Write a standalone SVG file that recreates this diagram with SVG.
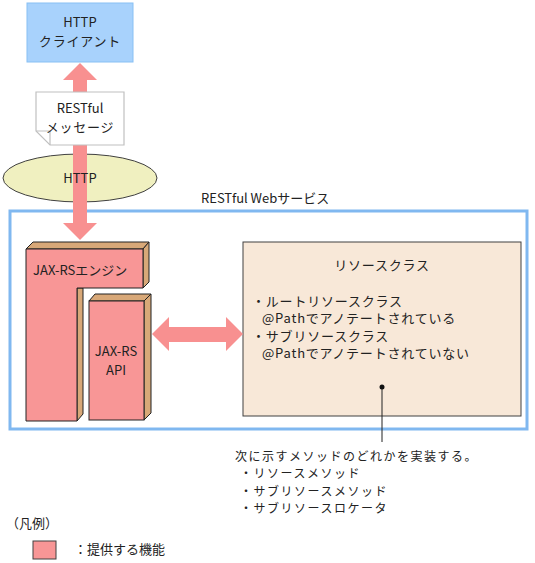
<svg xmlns="http://www.w3.org/2000/svg" width="535" height="563" viewBox="0 0 535 563">
<style>
text{font-family:"Noto Sans CJK JP","Liberation Sans",sans-serif;font-size:13px;fill:#222}
.c{text-anchor:middle}
.j{letter-spacing:0.8px}
.n{font-size:12px;letter-spacing:1.5px}
.front{fill:#f89696;stroke:#222;stroke-width:1}
.side{fill:#d8a878;stroke:#222;stroke-width:1}
.arrow{fill:#f89090;stroke:none}
</style>
<rect width="535" height="563" fill="#fff"/>
<g id="client">
<rect x="27" y="3" width="106" height="59" fill="#a8d2fc" stroke="#88c0f4" stroke-width="1"/>
<text class="c" x="80" y="27">HTTP</text>
<text class="c j" x="80" y="46">クライアント</text>
</g>
<g id="http">
<ellipse cx="80" cy="178" rx="77" ry="24" fill="#f0f0c0" stroke="#404040" stroke-width="1"/>
</g>
<g id="webservice">
<rect x="10" y="211" width="517" height="218" fill="none" stroke="#80b8f0" stroke-width="3"/>
<text x="201" y="203">RESTful Webサービス</text>
</g>
<g id="engine">
<polygon class="side" points="26,249 33,242 149,242 143,249"/>
<polygon class="side" points="143,249 149,242 149,282 143,288"/>
<polygon class="side" points="77,288 83,288 83,414 77,421"/>
<polygon class="front" points="26,249 143,249 143,288 77,288 77,421 26,421"/>
<text x="33" y="275">JAX-RSエンジン</text>
</g>
<g id="api">
<polygon class="side" points="89,301 95,294 151,294 144,301"/>
<polygon class="side" points="144,301 151,294 151,413 144,420"/>
<rect class="front" x="89" y="301" width="55" height="119"/>
<text class="c" x="116" y="356">JAX-RS</text>
<text class="c" x="116" y="375">API</text>
</g>
<g id="resource">
<rect x="243" y="242" width="278" height="174" fill="#f8e8d8" stroke="#404040" stroke-width="1"/>
<text class="c j" x="382" y="270">リソースクラス</text>
<text class="j" x="252" y="306">・ルートリソースクラス</text>
<text class="j" x="262" y="323">@Pathでアノテートされている</text>
<text class="j" x="252" y="341">・サブリソースクラス</text>
<text class="j" x="262" y="358">@Pathでアノテートされていない</text>
</g>
<g id="connectors">
<polygon class="arrow" points="80,63 97,80 87,80 87,223 97,223 80,240 63,223 73,223 73,80 63,80"/>
<polygon class="arrow" points="152,334 169,317 169,327 226,327 226,317 243,334 226,351 226,342 169,342 169,351"/>
<line x1="382" y1="387" x2="382" y2="442" stroke="#222" stroke-width="1"/>
<circle cx="382" cy="387" r="2.5" fill="#111"/>
</g>
<text class="c" x="80" y="183">HTTP</text>
<g id="message">
<path d="M36,92 H124 V145 H50 L36,131 Z" fill="#fff" stroke="#c0c0c0" stroke-width="1.2"/>
<path d="M36,131 L50,131 L50,145" fill="none" stroke="#c0c0c0" stroke-width="1.2"/>
<text class="c" x="80" y="113">RESTful</text>
<text class="c j" x="80" y="132">メッセージ</text>
</g>
<g id="note">
<text class="n" x="235" y="461">次に示すメソッドのどれかを実装する。</text>
<text class="n" x="240" y="478">・リソースメソッド</text>
<text class="n" x="240" y="496">・サブリソースメソッド</text>
<text class="n" x="240" y="513">・サブリソースロケータ</text>
</g>
<g id="legend">
<text x="6" y="528">（凡例）</text>
<rect x="33" y="541" width="23" height="18" fill="#f89696" stroke="#404040" stroke-width="1"/>
<text x="74" y="554">：提供する機能</text>
</g>
</svg>
